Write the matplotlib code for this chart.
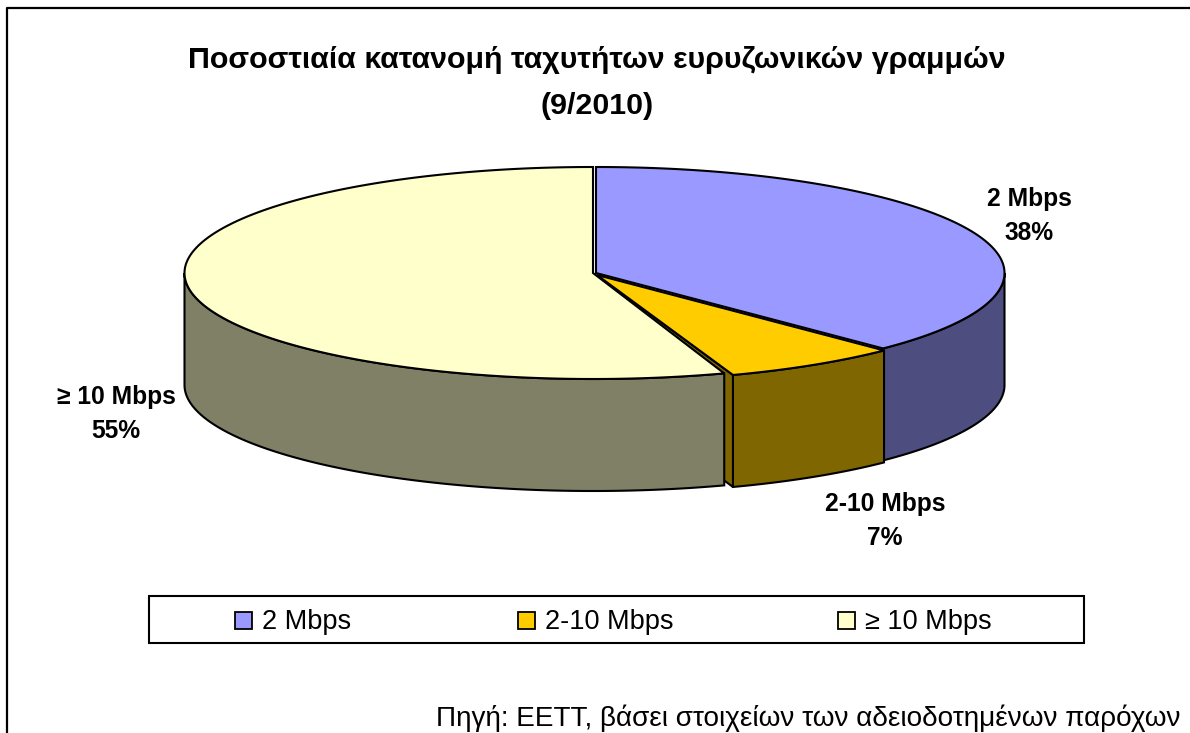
import numpy as np
import matplotlib.pyplot as plt
from matplotlib.patches import Polygon, Rectangle

plt.rcParams['font.family'] = ['Liberation Sans', 'DejaVu Sans']

title = "Ποσοστιαία κατανομή ταχυτήτων ευρυζωνικών γραμμών\n(9/2010)"
source = "Πηγή: ΕΕΤΤ, βάσει στοιχείων των αδειοδοτημένων παρόχων"
categories = ["2 Mbps", "2-10 Mbps", "≥ 10 Mbps"]
values = [37.6, 7.0, 55.4]
shown_pct = [38, 7, 55]
top_colors = ["#9999FF", "#FFCC00", "#FFFFCC"]
side_colors = ["#4D4D80", "#806600", "#808066"]

W, H = 1190, 733
CX, CY = 596, 273
RX, RY = 408.5, 106
DEPTH = 112
LW = 1.5


def ell(a, dx=0, dy=0):
    # angle in degrees clockwise from 12 o'clock, y axis points down
    r = np.radians(a)
    return CX + dx + RX * np.sin(r), CY + dy - RY * np.cos(r)


fig = plt.figure(figsize=(W / 100, H / 100), dpi=100)
ax = fig.add_axes([0, 0, 1, 1])
ax.set_xlim(0, W)
ax.set_ylim(H, 0)
ax.axis('off')

# chart frame, right and bottom run off the image
ax.plot([6.5, 6.5, W + 2], [H + 2, 7.5, 7.5], color='black', lw=1.6, zorder=1)

edges = np.cumsum([0] + values) / sum(values) * 360
starts = [edges[0], edges[1], edges[2] + 0.7]
stops = [edges[1], edges[2], edges[3]]
offsets = [(0, 0), (1, 2), (-3, 0)]

# purple wall goes first, then the cut face and wall of the small slice
zorders = [2, 3, 5]
for i in range(3):
    s0, s1 = max(starts[i], 90), min(stops[i], 270)
    dx, dy = offsets[i]
    t = np.linspace(s0, s1, 150)
    x, y = ell(t, dx, dy)
    xs = np.r_[x, x[::-1]]
    ys = np.r_[y, (y + DEPTH)[::-1]]
    ax.add_patch(Polygon(np.c_[xs, ys], fc=side_colors[i], ec='black', lw=LW, zorder=zorders[i]))

# cut face of the small slice, shows through the gap to the big slice
dx, dy = offsets[1]
rx, ry = ell(stops[1], dx, dy)
ax.add_patch(Polygon([(CX + dx, CY + dy), (rx, ry), (rx, ry + DEPTH), (CX + dx, CY + dy + DEPTH)],
                     fc=side_colors[1], ec='black', lw=LW, zorder=4))

# top faces
top_z = [7, 7, 6]
for i in range(3):
    dx, dy = offsets[i]
    t = np.linspace(starts[i], stops[i], 200)
    x, y = ell(t, dx, dy)
    pts = np.r_[[[CX + dx, CY + dy]], np.c_[x, y]]
    ax.add_patch(Polygon(pts, fc=top_colors[i], ec='black', lw=LW, zorder=top_z[i]))

# slice labels
label_pos = [(1029, 216), (885, 521), (116, 414)]
for name, pct, (lx, ly) in zip(categories, shown_pct, label_pos):
    ax.text(lx, ly, f"{name}\n{pct}%", ha='center', va='center', fontsize=17.7,
            fontweight='bold', linespacing=1.5, zorder=8)

ax.text(597, 83, title, ha='center', va='center', fontsize=21.9, fontweight='bold', linespacing=1.8)

# legend box
ax.add_patch(Rectangle((148.5, 596), 935, 47, fc='white', ec='black', lw=1.5, zorder=8))
swatch_x = [235, 518, 838]
for name, col, sx in zip(categories, top_colors, swatch_x):
    ax.add_patch(Rectangle((sx, 612), 17, 17, fc=col, ec='black', lw=1.3, zorder=9))
    ax.text(sx + 27, 622, name, ha='left', va='center', fontsize=19.5, zorder=9)

ax.text(1181, 718, source, ha='right', va='center', fontsize=20.1)

fig.savefig('out.png', dpi=100)
